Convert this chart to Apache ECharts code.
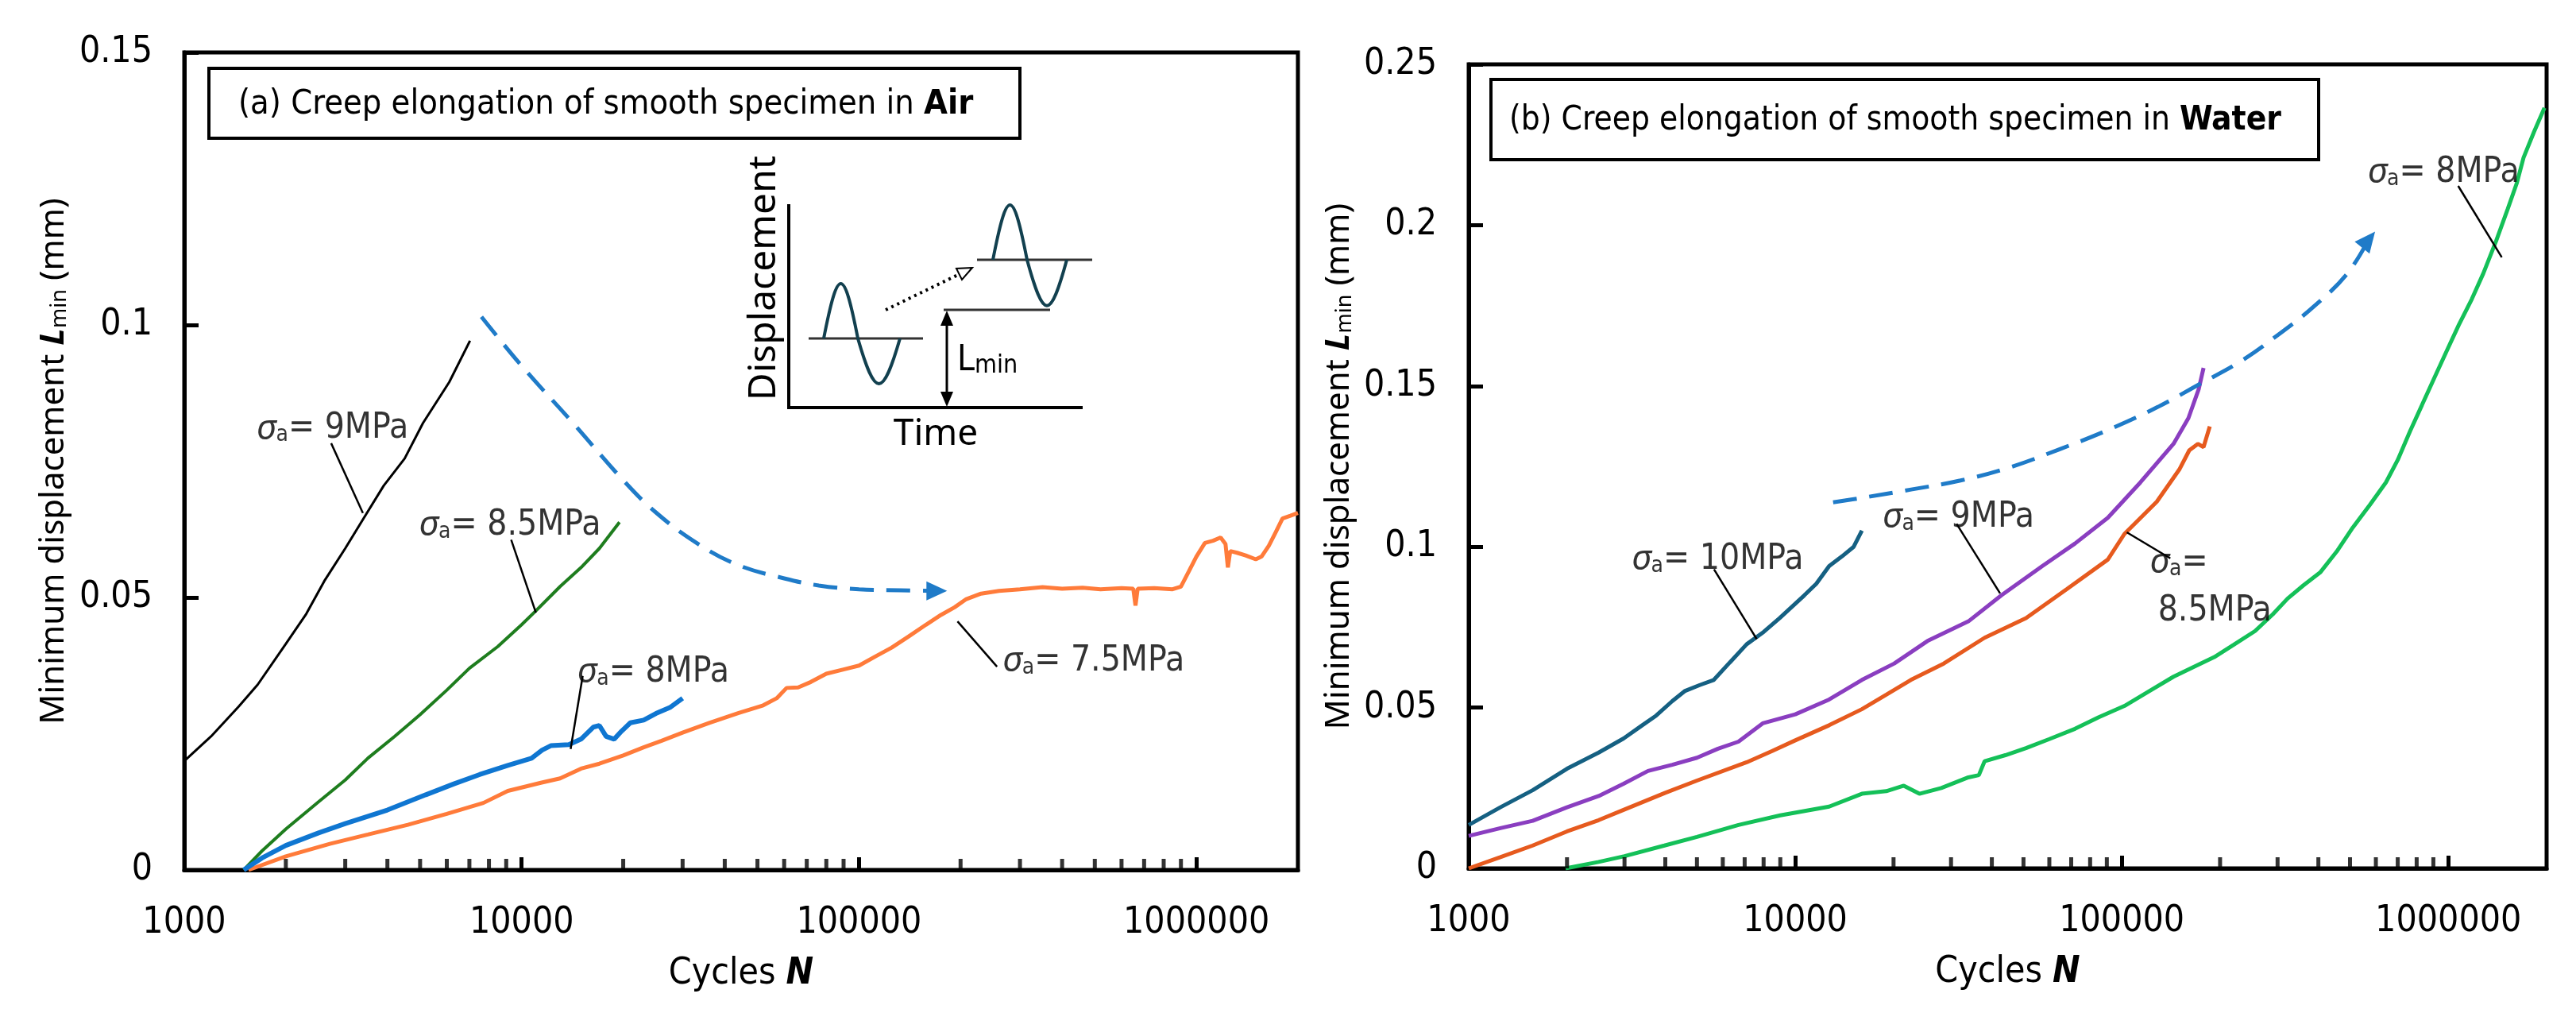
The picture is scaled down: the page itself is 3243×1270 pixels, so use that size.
<!DOCTYPE html>
<html>
<head>
<meta charset="utf-8">
<script src="https://cdn.jsdelivr.net/npm/echarts@6/dist/echarts.min.js"></script>
<style>
  html, body { margin: 0; padding: 0; background: #fff; }
  #chart { width: 3243px; height: 1270px; }
</style>
</head>
<body>
<div id="chart"></div>
<script>
// ---- data: [cycles N, minimum displacement Lmin (mm)] ----
// (a) in air
const air9 = [[1000,0.020],[1200,0.0245],[1450,0.030],[1650,0.034],[2000,0.0415],[2300,0.047],[2600,0.053],[3000,0.059],[3400,0.0645],[3900,0.0705],[4500,0.0755],[5100,0.082],[6100,0.0895],[7030,0.0971]];
const air85 = [[1500,0],[1700,0.0035],[2000,0.0075],[2500,0.0125],[3000,0.0165],[3500,0.0205],[4200,0.0245],[5000,0.0285],[6000,0.033],[7000,0.037],[8500,0.041],[10000,0.045],[11000,0.0475],[13000,0.052],[15000,0.0555],[17000,0.059],[19500,0.0638]];
const air8 = [[1500,0],[1700,0.0022],[2000,0.0045],[2500,0.0068],[3000,0.0085],[4000,0.011],[5200,0.0138],[6300,0.0158],[7500,0.0175],[9100,0.0192],[10700,0.0205],[11500,0.022],[12200,0.0228],[13800,0.023],[15000,0.024],[16300,0.0262],[17000,0.0265],[17800,0.0245],[18800,0.024],[19800,0.0255],[21000,0.027],[23000,0.0275],[25000,0.0287],[27500,0.0298],[30000,0.0315]];
const air75 = [[1550,0],[2000,0.0025],[2700,0.0048],[3500,0.0065],[4600,0.0083],[6000,0.0103],[7700,0.0123],[9100,0.0145],[11400,0.016],[13000,0.0168],[15000,0.0186],[17000,0.0195],[20000,0.021],[23000,0.0225],[26000,0.0237],[30000,0.0252],[36000,0.027],[44000,0.0288],[52000,0.0302],[57000,0.0315],[61000,0.0334],[66000,0.0335],[72000,0.0345],[80000,0.036],[90000,0.0368],[100000,0.0375],[112000,0.0392],[125000,0.0408],[140000,0.0428],[158000,0.045],[175000,0.0468],[192000,0.0482],[208000,0.0497],[230000,0.0507],[260000,0.0512],[300000,0.0515],[350000,0.0519],[400000,0.0516],[460000,0.0518],[520000,0.0515],[600000,0.0517],[650000,0.0516],[660000,0.0485],[670000,0.0516],[750000,0.0517],[850000,0.0515],[900000,0.052],[950000,0.0548],[1000000,0.0575],[1060000,0.060],[1120000,0.0604],[1180000,0.061],[1220000,0.0598],[1240000,0.0555],[1260000,0.0585],[1320000,0.0582],[1400000,0.0577],[1500000,0.057],[1560000,0.0575],[1640000,0.0595],[1720000,0.062],[1800000,0.0645],[1900000,0.065],[2000000,0.0655]];
const trendAir = [[7600,0.1015],[10000,0.0925],[14200,0.082],[20000,0.0715],[25000,0.0656],[33000,0.060],[43600,0.056],[60000,0.0535],[76000,0.0522],[100000,0.0515],[133000,0.0513],[170000,0.0512]];

// (b) in water
const wat10 = [[1000,0.0135],[1250,0.019],[1570,0.0243],[2000,0.031],[2500,0.036],[2980,0.0404],[3400,0.0445],[3750,0.0475],[4200,0.052],[4600,0.0552],[5100,0.057],[5630,0.0586],[6300,0.064],[7100,0.0697],[8000,0.0735],[8950,0.0778],[10660,0.0849],[11600,0.0885],[12700,0.094],[13900,0.097],[15100,0.100],[16000,0.105]];
const wat9 = [[1000,0.0101],[1250,0.0125],[1570,0.0148],[2000,0.019],[2500,0.0225],[2980,0.0263],[3540,0.0303],[4200,0.0322],[5000,0.0344],[5800,0.0372],[6700,0.0394],[7950,0.0451],[10000,0.0479],[12700,0.0525],[16000,0.0586],[20100,0.0637],[25400,0.0707],[33900,0.0768],[42800,0.0849],[57100,0.094],[71900,0.101],[90600,0.109],[114000,0.120],[144000,0.132],[160000,0.140],[172000,0.149],[178000,0.1556]];
const wat85 = [[1000,0],[1250,0.0035],[1570,0.0071],[2000,0.0115],[2500,0.015],[2980,0.0182],[4000,0.0235],[5000,0.0273],[7100,0.033],[8500,0.0365],[10000,0.0398],[12700,0.0445],[16000,0.0495],[19000,0.054],[22600,0.0586],[28500,0.0637],[38000,0.0717],[50900,0.0778],[68000,0.0869],[90600,0.096],[101900,0.104],[128000,0.114],[150000,0.124],[161000,0.130],[171000,0.132],[178000,0.131],[186000,0.1374]];
const wat8 = [[1980,0],[2500,0.002],[3000,0.0038],[3975,0.0071],[5000,0.0098],[6700,0.0135],[9000,0.0165],[12700,0.0192],[16000,0.0232],[19000,0.024],[21500,0.0257],[24000,0.0232],[28000,0.025],[33900,0.0283],[36500,0.029],[38000,0.0333],[44000,0.0352],[50900,0.0374],[60000,0.0402],[71900,0.0434],[85000,0.047],[101900,0.0505],[120000,0.0548],[144000,0.0596],[165000,0.0625],[192000,0.0657],[220000,0.0695],[256000,0.0738],[290000,0.079],[322000,0.0839],[360000,0.088],[405000,0.092],[455000,0.0985],[510000,0.106],[575000,0.113],[644000,0.120],[700000,0.127],[764000,0.136],[830000,0.144],[907000,0.1526],[990000,0.161],[1077000,0.169],[1180000,0.177],[1280000,0.185],[1400000,0.195],[1520000,0.205],[1620000,0.213],[1700000,0.221],[1830000,0.229],[1970000,0.2365]];
const trendWater = [[13060,0.1138],[16000,0.1152],[22650,0.1178],[32070,0.1206],[45420,0.1247],[64370,0.1303],[91200,0.1364],[129100,0.1435],[172600,0.1505],[230700,0.1576],[308500,0.1667],[388300,0.1748],[490000,0.1849],[570000,0.1955]];

// minor ticks on the log axis
const minorTicks = [2000,3000,4000,5000,6000,7000,8000,9000,20000,30000,40000,50000,60000,70000,80000,90000,200000,300000,400000,500000,600000,700000,800000,900000];

// curve labels: [text, N, L]  and leader lines: [N1, L1, N2, L2]
const labelsAir = [
  ['{s|σ}{sub|a}{t|= 9MPa}', 1638, 0.0809],
  ['{s|σ}{sub|a}{t|= 8.5MPa}', 4966, 0.0632],
  ['{s|σ}{sub|a}{t|= 8MPa}', 14620, 0.0362],
  ['{s|σ}{sub|a}{t|= 7.5MPa}', 266600, 0.0382]
];
const leadersAir = [
  [2725, 0.0783, 3384, 0.0655],
  [9310, 0.0606, 11020, 0.0472],
  [15170, 0.0356, 13970, 0.0222],
  [256500, 0.0373, 195900, 0.0456]
];
const labelsWater = [
  ['{s|σ}{sub|a}{t|= 10MPa}', 3155, 0.096],
  ['{s|σ}{sub|a}{t|= 9MPa}', 18500, 0.109],
  ['{s|σ}{sub|a}{t|=}', 121900, 0.095],
  ['{t|8.5MPa}', 129000, 0.0798],
  ['{s|σ}{sub|a}{t|= 8MPa}', 566000, 0.2162]
];
const leadersWater = [
  [5640, 0.093, 7620, 0.0713],
  [31200, 0.1071, 42400, 0.0855],
  [103600, 0.1045, 140800, 0.0964],
  [1072000, 0.2122, 1458000, 0.190]
];

const NARROW = "'Liberation Sans Narrow','DejaVu Sans Condensed','Liberation Sans',sans-serif";
const WIDE = "'Noto Sans','Open Sans',sans-serif";

const RICH = {
  s: { fontFamily: WIDE, fontStyle: 'italic', fontSize: 44, color: '#000' },
  sub: { fontFamily: NARROW, fontSize: 28, verticalAlign: 'bottom', color: '#000' },
  t: { fontFamily: NARROW, fontSize: 44, color: '#000' }
};

const chart = echarts.init(document.getElementById('chart'));

function xAxisOf(i) {
  return {
    type: 'log', logBase: 10, min: 1000, max: 2000000, gridIndex: i,
    axisLine: { show: true, onZero: false, lineStyle: { color: '#000', width: 5 } },
    axisTick: { show: true, inside: true, length: 16, lineStyle: { color: '#000', width: 5 } },
    axisLabel: { formatter: v => String(v), showMaxLabel: false, margin: 44, color: '#000', fontFamily: NARROW, fontSize: 46 },
    splitLine: { show: false },
    name: 'Cycles {b|N}', nameLocation: 'middle', nameGap: 108,
    nameTextStyle: { color: '#000', fontFamily: NARROW, fontSize: 46,
      rich: { b: { fontFamily: NARROW, fontSize: 46, fontWeight: 'bold', fontStyle: 'italic', color: '#000' } } }
  };
}
function yAxisOf(i, max, gap) {
  return {
    type: 'value', min: 0, max: max, interval: 0.05, gridIndex: i,
    axisLine: { show: true, onZero: false, lineStyle: { color: '#000', width: 5 } },
    axisTick: { show: true, inside: true, length: 18, lineStyle: { color: '#000', width: 5 } },
    axisLabel: { margin: 40, color: '#000', fontFamily: NARROW, fontSize: 46 },
    splitLine: { show: false },
    name: 'Minimum displacement {b|L}{sub|min} (mm)', nameLocation: 'middle', nameGap: gap,
    nameTextStyle: { color: '#000', fontFamily: WIDE, fontSize: 42,
      rich: {
        b: { fontFamily: WIDE, fontSize: 42, fontWeight: 'bold', fontStyle: 'italic', color: '#000' },
        sub: { fontFamily: WIDE, fontSize: 27, verticalAlign: 'bottom', color: '#000' }
      } }
  };
}
function curve(data, i, color, width) {
  return { type: 'line', xAxisIndex: i, yAxisIndex: i, data: data, showSymbol: false, silent: true,
    lineStyle: { color: color, width: width }, itemStyle: { color: color } };
}
function trend(data, i, rot) {
  const items = data.map((d, k) => k === data.length - 1
    ? { value: d, symbol: 'triangle', symbolSize: [24, 26], symbolRotate: rot }
    : { value: d });
  return { type: 'line', xAxisIndex: i, yAxisIndex: i, data: items, smooth: 0.4, symbol: 'none', showSymbol: true,
    silent: true, lineStyle: { color: '#1f7bc8', width: 5, type: [30, 16] }, itemStyle: { color: '#1f7bc8' } };
}
function ticks(i) {
  return { type: 'scatter', xAxisIndex: i, yAxisIndex: i, symbol: 'rect', symbolSize: [5, 14], symbolOffset: [0, -7],
    clip: false, silent: true, z: 5, itemStyle: { color: '#000' }, data: minorTicks.map(v => [v, 0]) };
}
function labels(list, leaders, i) {
  return {
    type: 'scatter', xAxisIndex: i, yAxisIndex: i, symbolSize: 0, silent: true, clip: false, z: 10,
    data: list.map(d => ({ value: [d[1], d[2]], label: { formatter: d[0] } })),
    label: { show: true, position: 'right', distance: 0, rich: RICH },
    markLine: {
      silent: true, symbol: ['none', 'none'], animation: false, label: { show: false },
      lineStyle: { color: '#000', width: 2.5, type: 'solid' },
      data: leaders.map(l => [{ coord: [l[0], l[1]] }, { coord: [l[2], l[3]] }])
    }
  };
}

// inset schematic (panel a) and caption boxes
const INK = '#12404f';
const graphic = [
  { type: 'rect', shape: { x: 263, y: 86, width: 1021, height: 88 }, style: { fill: '#fff', stroke: '#000', lineWidth: 4 }, z: 50 },
  { type: 'text', x: 300, y: 132, z: 51, style: { text: '(a) Creep elongation of smooth specimen in {b|Air}', fontFamily: NARROW, fontSize: 43, fill: '#000', verticalAlign: 'middle',
    rich: { b: { fontFamily: NARROW, fontSize: 43, fontWeight: 'bold', fill: '#000' } } } },
  { type: 'rect', shape: { x: 1877, y: 100, width: 1042, height: 101 }, style: { fill: '#fff', stroke: '#000', lineWidth: 4 }, z: 50 },
  { type: 'text', x: 1900, y: 152, z: 51, style: { text: '(b) Creep elongation of smooth specimen in {b|Water}', fontFamily: NARROW, fontSize: 42, fill: '#000', verticalAlign: 'middle',
    rich: { b: { fontFamily: NARROW, fontSize: 42, fontWeight: 'bold', fill: '#000' } } } },

  { type: 'line', shape: { x1: 993, y1: 257, x2: 993, y2: 514 }, style: { stroke: '#000', lineWidth: 4 } },
  { type: 'line', shape: { x1: 991, y1: 513, x2: 1363, y2: 513 }, style: { stroke: '#000', lineWidth: 4 } },
  { type: 'text', x: 962, y: 350, rotation: Math.PI / 2, style: { text: 'Displacement', fontFamily: WIDE, fontSize: 48, fill: '#000', align: 'center', verticalAlign: 'middle' } },
  { type: 'text', x: 1178, y: 547, style: { text: 'Time', fontFamily: WIDE, fontSize: 46, fill: '#000', align: 'center', verticalAlign: 'middle' } },
  { type: 'line', shape: { x1: 1018, y1: 426, x2: 1162, y2: 426 }, style: { stroke: '#333', lineWidth: 3 } },
  { type: 'line', shape: { x1: 1230, y1: 327, x2: 1375, y2: 327 }, style: { stroke: '#333', lineWidth: 3 } },
  { type: 'line', shape: { x1: 1188, y1: 390, x2: 1322, y2: 390 }, style: { stroke: '#333', lineWidth: 3 } },
  { type: 'bezierCurve', shape: { x1: 1037, y1: 426, cpx1: 1055, cpy1: 334, cpx2: 1062, cpy2: 334, x2: 1080, y2: 426 }, style: { stroke: INK, lineWidth: 4, fill: null } },
  { type: 'bezierCurve', shape: { x1: 1080, y1: 426, cpx1: 1102, cpy1: 502, cpx2: 1111, cpy2: 502, x2: 1133, y2: 426 }, style: { stroke: INK, lineWidth: 4, fill: null } },
  { type: 'bezierCurve', shape: { x1: 1250, y1: 327, cpx1: 1268, cpy1: 235, cpx2: 1275, cpy2: 235, x2: 1293, y2: 327 }, style: { stroke: INK, lineWidth: 4, fill: null } },
  { type: 'bezierCurve', shape: { x1: 1293, y1: 327, cpx1: 1314, cpy1: 404, cpx2: 1322, cpy2: 404, x2: 1343, y2: 327 }, style: { stroke: INK, lineWidth: 4, fill: null } },
  { type: 'line', shape: { x1: 1192, y1: 400, x2: 1192, y2: 503 }, style: { stroke: '#000', lineWidth: 3 } },
  { type: 'polygon', shape: { points: [[1192, 391], [1184, 410], [1200, 410]] }, style: { fill: '#000' } },
  { type: 'polygon', shape: { points: [[1192, 512], [1184, 493], [1200, 493]] }, style: { fill: '#000' } },
  { type: 'text', x: 1205, y: 455, style: { text: '{a|L}{b|min}', fill: '#000', verticalAlign: 'middle',
    rich: { a: { fontFamily: NARROW, fontSize: 44, fill: '#000' }, b: { fontFamily: NARROW, fontSize: 32, verticalAlign: 'bottom', fill: '#000' } } } },
  { type: 'line', shape: { x1: 1115, y1: 390, x2: 1212, y2: 343 }, style: { stroke: '#000', lineWidth: 4, lineDash: [3, 5] } },
  { type: 'polygon', shape: { points: [[1224, 337], [1204, 338], [1211, 352]] }, style: { fill: '#fff', stroke: '#000', lineWidth: 2 } }
];

const option = {
  animation: false,
  backgroundColor: '#fff',
  grid: [
    { left: 232, top: 66, width: 1402, height: 1029, show: true, borderColor: '#000', borderWidth: 5, backgroundColor: 'transparent' },
    { left: 1849, top: 81, width: 1357, height: 1012, show: true, borderColor: '#000', borderWidth: 5, backgroundColor: 'transparent' }
  ],
  xAxis: [xAxisOf(0), xAxisOf(1)],
  yAxis: [yAxisOf(0, 0.15, 143), yAxisOf(1, 0.25, 142)],
  series: [
    curve(air9, 0, '#000000', 3),
    curve(air85, 0, '#1e7d1e', 4),
    curve(air75, 0, '#ff7b3a', 5),
    curve(air8, 0, '#0f76d1', 6),
    trend(trendAir, 0, -90),
    ticks(0),
    labels(labelsAir, leadersAir, 0),

    curve(wat10, 1, '#156082', 5),
    curve(wat9, 1, '#8a3ec0', 5),
    curve(wat85, 1, '#e65a1e', 5),
    curve(wat8, 1, '#14c058', 5),
    trend(trendWater, 1, -39),
    ticks(1),
    labels(labelsWater, leadersWater, 1)
  ],
  graphic: graphic
};

option && chart.setOption(option);
window.addEventListener('resize', () => chart.resize());
</script>
</body>
</html>
